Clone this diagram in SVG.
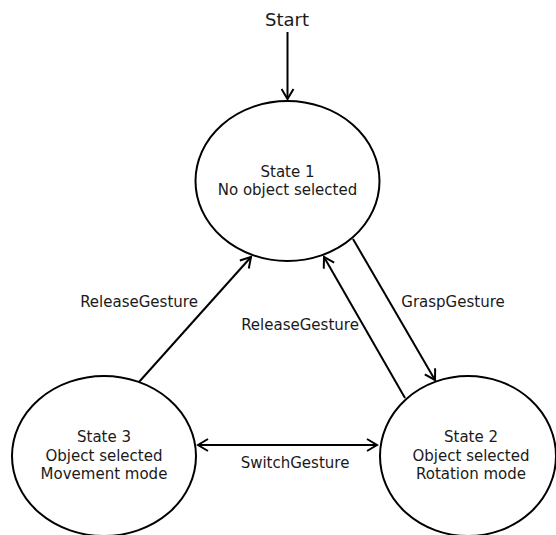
<svg xmlns="http://www.w3.org/2000/svg" width="556" height="535" viewBox="0 0 556 535">
<style>
.st{fill:#fff;stroke:#000;stroke-width:2}
.ln{fill:none;stroke:#000;stroke-width:2}
text{font-family:"DejaVu Sans",sans-serif;font-size:15px;fill:#1a1a1a;text-anchor:middle}
.big{font-size:18px}
</style>
<defs>
<marker id="ah" viewBox="-12 -7 14 14" refX="0" refY="0" markerWidth="14" markerHeight="14" markerUnits="userSpaceOnUse" orient="auto-start-reverse">
<path d="M-10,-6 L0,0 L-10,6" fill="none" stroke="#000" stroke-width="2"/>
</marker>
</defs>
<rect width="556" height="535" fill="#fff"/>
<g id="connectors">
<line class="ln" x1="287.5" y1="32" x2="287.5" y2="99" marker-end="url(#ah)"/>
<line class="ln" x1="139" y1="382" x2="251" y2="257" marker-end="url(#ah)"/>
<line class="ln" x1="405" y1="398" x2="324" y2="257" marker-end="url(#ah)"/>
<line class="ln" x1="353" y1="239" x2="435" y2="380" marker-end="url(#ah)"/>
<line class="ln" x1="198" y1="445" x2="377" y2="445" marker-start="url(#ah)" marker-end="url(#ah)"/>
<text x="139" y="307">ReleaseGesture</text>
<text x="453" y="307">GraspGesture</text>
<text x="300" y="330">ReleaseGesture</text>
<text x="295" y="468">SwitchGesture</text>
</g>
<g id="start"><text class="big" x="287" y="26">Start</text></g>
<g id="state1">
<ellipse class="st" cx="287.5" cy="181" rx="92" ry="80"/>
<text x="287.5" y="177">State 1</text>
<text x="287.5" y="195">No object selected</text>
</g>
<g id="state3">
<ellipse class="st" cx="104" cy="456" rx="92" ry="80"/>
<text x="104" y="442">State 3</text>
<text x="104" y="461">Object selected</text>
<text x="104" y="479">Movement mode</text>
</g>
<g id="state2">
<ellipse class="st" cx="468" cy="456" rx="88" ry="80"/>
<text x="471" y="442">State 2</text>
<text x="471" y="461">Object selected</text>
<text x="471" y="479">Rotation mode</text>
</g>
</svg>
